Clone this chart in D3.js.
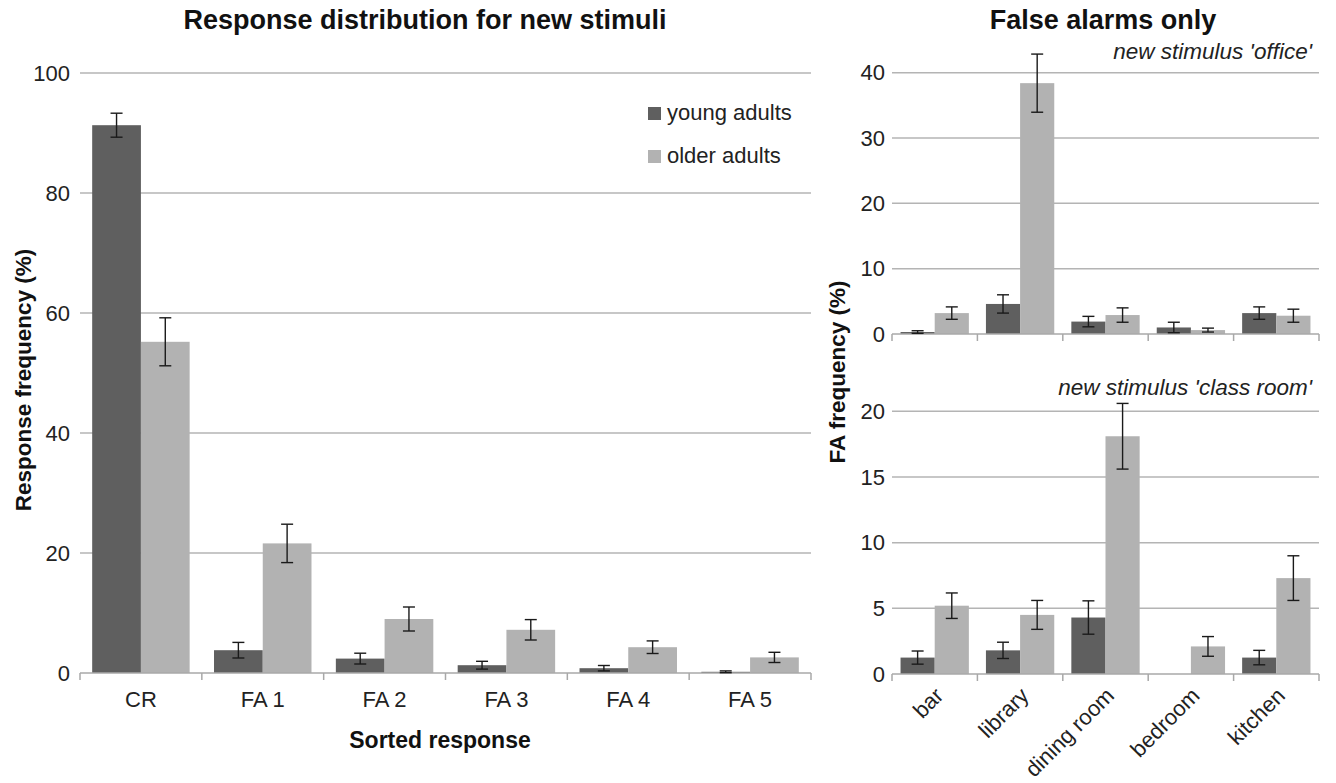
<!DOCTYPE html>
<html>
<head>
<meta charset="utf-8">
<script src="https://cdn.jsdelivr.net/npm/d3@7/dist/d3.min.js"></script>
<style>
  html, body { margin: 0; padding: 0; background: #fff; }
  svg { display: block; font-family: "Liberation Sans", Arial, sans-serif; }
</style>
</head>
<body>
<svg id="chart" width="1336" height="783"></svg>
<script>
// Response distribution for new stimuli (percent of responses)
const responseCategories = ["CR", "FA 1", "FA 2", "FA 3", "FA 4", "FA 5"];
const youngResponse = [91.3, 3.8, 2.4, 1.3, 0.8, 0.2];
const youngResponseErr = [2.0, 1.3, 0.9, 0.65, 0.45, 0.15];
const olderResponse = [55.2, 21.6, 9.0, 7.2, 4.3, 2.6];
const olderResponseErr = [4.0, 3.2, 2.0, 1.7, 1.05, 0.85];
const responseTicks = [0, 20, 40, 60, 80, 100];

// False alarms by lure category
const faCategories = ["bar", "library", "dining room", "bedroom", "kitchen"];
const officeYoung = [0.3, 4.6, 1.9, 1.0, 3.2];
const officeYoungErr = [0.2, 1.4, 0.8, 0.8, 0.95];
const officeOlder = [3.2, 38.4, 2.9, 0.6, 2.8];
const officeOlderErr = [0.95, 4.45, 1.1, 0.3, 1.0];
const officeTicks = [0, 10, 20, 30, 40];

const classYoung = [1.25, 1.8, 4.3, 0, 1.25];
const classYoungErr = [0.5, 0.62, 1.27, 0, 0.55];
const classOlder = [5.2, 4.5, 18.1, 2.1, 7.3];
const classOlderErr = [0.97, 1.1, 2.5, 0.75, 1.7];
const classTicks = [0, 5, 10, 15, 20];

const groups = ["young adults", "older adults"];
const colors = { "young adults": "#5f5f5f", "older adults": "#b2b2b2" };

const svg = d3.select("#chart");

function barPanel(opts) {
  const g = svg.append("g");
  const x = d3.scaleBand().domain(opts.categories)
    .range([opts.x0, opts.x1]).paddingInner(0.2).paddingOuter(0.1);
  const xs = d3.scaleBand().domain(groups).range([0, x.bandwidth()]);
  const y = d3.scaleLinear().domain([0, opts.yMax]).range([opts.yBottom, opts.yTop]);

  // horizontal gridlines
  g.append("g").selectAll("line").data(opts.ticks.filter(t => t > 0)).join("line")
    .attr("x1", opts.x0).attr("x2", opts.x1)
    .attr("y1", d => y(d)).attr("y2", d => y(d))
    .attr("stroke", "#b4b4b4").attr("stroke-width", 1.5);

  // y tick labels
  const ya = d3.axisLeft(y).tickValues(opts.ticks).tickSize(0).tickPadding(opts.tickPad);
  g.append("g").attr("transform", `translate(${opts.x0},0)`).call(ya)
    .call(s => s.select(".domain").remove())
    .selectAll("text").attr("font-size", opts.tickFont).attr("fill", "#222")
    .attr("font-family", "Liberation Sans, Arial, sans-serif");

  // bars
  const rows = opts.categories.map((c, i) => [
    { c, s: groups[0], v: opts.young[i], e: opts.youngErr[i] },
    { c, s: groups[1], v: opts.older[i], e: opts.olderErr[i] }
  ]).flat();

  g.append("g").selectAll("rect").data(rows).join("rect")
    .attr("x", d => x(d.c) + xs(d.s))
    .attr("width", xs.bandwidth())
    .attr("y", d => y(d.v))
    .attr("height", d => y(0) - y(d.v))
    .attr("fill", d => colors[d.s]);

  // x axis baseline with category boundary ticks
  g.append("line").attr("x1", opts.x0).attr("x2", opts.x1)
    .attr("y1", y(0)).attr("y2", y(0)).attr("stroke", "#a8a8a8").attr("stroke-width", 1.5);
  const bounds = d3.range(opts.categories.length + 1).map(i => opts.x0 + i * x.step());
  g.append("g").selectAll("line").data(bounds).join("line")
    .attr("x1", d => d).attr("x2", d => d)
    .attr("y1", y(0)).attr("y2", y(0) + 7)
    .attr("stroke", "#a8a8a8").attr("stroke-width", 1.5);

  // error bars
  const eb = g.append("g").attr("stroke", "#1a1a1a").attr("stroke-width", 1.4);
  rows.filter(d => d.e > 0).forEach(d => {
    const cx = x(d.c) + xs(d.s) + xs.bandwidth() / 2;
    const hi = y(d.v + d.e), lo = y(Math.max(0, d.v - d.e));
    eb.append("line").attr("x1", cx).attr("x2", cx).attr("y1", hi).attr("y2", lo);
    eb.append("line").attr("x1", cx - 6).attr("x2", cx + 6).attr("y1", hi).attr("y2", hi);
    eb.append("line").attr("x1", cx - 6).attr("x2", cx + 6).attr("y1", lo).attr("y2", lo);
  });

  return { g, x, y };
}

// ---- Left panel ----
const left = barPanel({
  categories: responseCategories,
  young: youngResponse, youngErr: youngResponseErr,
  older: olderResponse, olderErr: olderResponseErr,
  ticks: responseTicks, yMax: 100,
  x0: 80, x1: 811, yBottom: 673, yTop: 73,
  tickFont: 22, tickPad: 10
});

left.g.append("g").selectAll("text").data(responseCategories).join("text")
  .attr("x", d => left.x(d) + left.x.bandwidth() / 2)
  .attr("y", 707)
  .attr("text-anchor", "middle").attr("font-size", 22).attr("fill", "#222")
  .text(d => d);

svg.append("text").attr("x", 425).attr("y", 29).attr("text-anchor", "middle")
  .attr("font-size", 27).attr("font-weight", "bold").attr("fill", "#111")
  .text("Response distribution for new stimuli");

svg.append("text").attr("x", 440).attr("y", 748).attr("text-anchor", "middle")
  .attr("font-size", 23).attr("font-weight", "bold").attr("fill", "#111")
  .text("Sorted response");

svg.append("text")
  .attr("transform", "translate(31,380) rotate(-90)")
  .attr("text-anchor", "middle")
  .attr("font-size", 22.5).attr("font-weight", "bold").attr("fill", "#111")
  .text("Response frequency (%)");

// legend
const legend = svg.append("g").selectAll("g").data(groups).join("g")
  .attr("transform", (d, i) => `translate(648,${120 + i * 43})`);
legend.append("rect").attr("x", 0).attr("y", -13).attr("width", 13).attr("height", 13)
  .attr("fill", d => colors[d]);
legend.append("text").attr("x", 19).attr("y", 0)
  .attr("font-size", 22).attr("fill", "#222").text(d => d);

// ---- Right panels ----
const office = barPanel({
  categories: faCategories,
  young: officeYoung, youngErr: officeYoungErr,
  older: officeOlder, olderErr: officeOlderErr,
  ticks: officeTicks, yMax: 40,
  x0: 892, x1: 1319, yBottom: 334, yTop: 72.7,
  tickFont: 22, tickPad: 7
});

const classroom = barPanel({
  categories: faCategories,
  young: classYoung, youngErr: classYoungErr,
  older: classOlder, olderErr: classOlderErr,
  ticks: classTicks, yMax: 20,
  x0: 892, x1: 1319, yBottom: 674, yTop: 411.3,
  tickFont: 22, tickPad: 7
});

classroom.g.append("g").selectAll("text").data(faCategories).join("text")
  .attr("transform", d => `translate(${classroom.x(d) + classroom.x.bandwidth() / 2 + 10},697) rotate(-45)`)
  .attr("text-anchor", "end").attr("font-size", 22).attr("fill", "#222")
  .text(d => d);

svg.append("text").attr("x", 1103).attr("y", 29).attr("text-anchor", "middle")
  .attr("font-size", 27).attr("font-weight", "bold").attr("fill", "#111")
  .text("False alarms only");

svg.append("text").attr("x", 1312).attr("y", 59).attr("text-anchor", "end")
  .attr("font-size", 22.5).attr("font-style", "italic").attr("fill", "#222")
  .text("new stimulus 'office'");

svg.append("text").attr("x", 1312).attr("y", 395).attr("text-anchor", "end")
  .attr("font-size", 22.5).attr("font-style", "italic").attr("fill", "#222")
  .text("new stimulus 'class room'");

svg.append("text")
  .attr("transform", "translate(845,372) rotate(-90)")
  .attr("text-anchor", "middle")
  .attr("font-size", 22.5).attr("font-weight", "bold").attr("fill", "#111")
  .text("FA frequency (%)");
</script>
</body>
</html>
